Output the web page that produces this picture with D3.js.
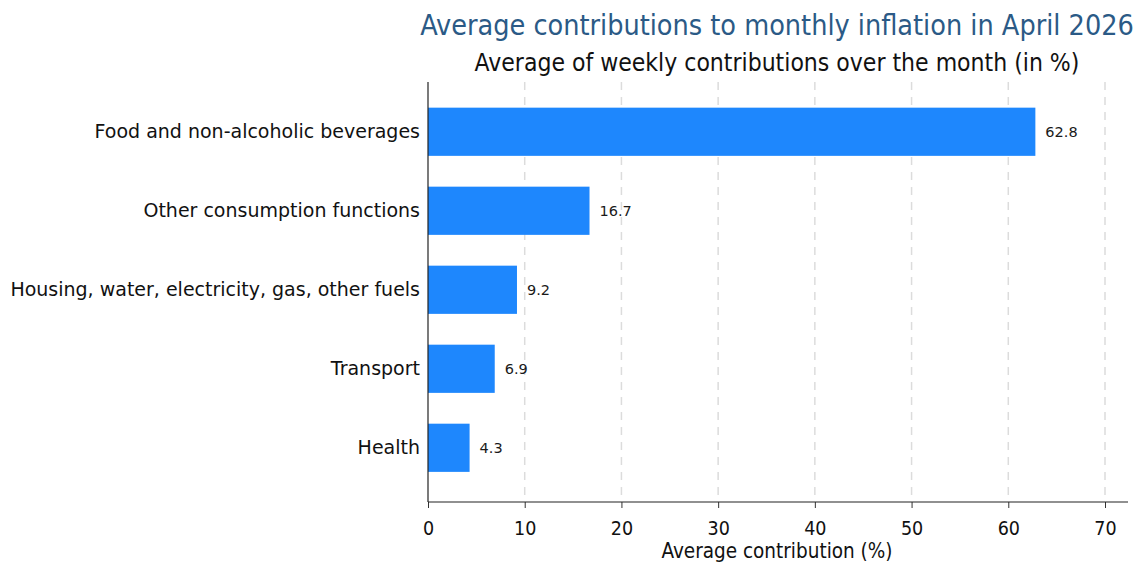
<!DOCTYPE html>
<html><head><meta charset="utf-8">
<script src="https://cdn.jsdelivr.net/npm/d3@7"></script>
<style>
body{margin:0;background:#fff;}
svg{display:block;font-family:"DejaVu Sans Condensed","DejaVu Sans",sans-serif;}
</style></head>
<body>
<svg id="c" width="1146" height="563"></svg>
<script>
const categories = ["Food and non-alcoholic beverages","Other consumption functions","Housing, water, electricity, gas, other fuels","Transport","Health"];
const values = [62.8, 16.7, 9.2, 6.9, 4.3];
const xTicks = [0,10,20,30,40,50,60,70];
const titleText = "Average contributions to monthly inflation in April 2026";
const subtitleText = "Average of weekly contributions over the month (in %)";
const xAxisTitle = "Average contribution (%)";

(function(){
const svg = d3.select("#c");
const pL = 428, pR = 1128, pT = 82, pB = 502;
const cond = '"DejaVu Sans Condensed","DejaVu Sans",sans-serif';
const wide = '"DejaVu Sans",sans-serif';
const x = d3.scaleLinear().domain([0,70]).range([pL, 1105]);
const y = d3.scaleBand().domain(categories).range([pT, pB]).paddingInner(0.39).paddingOuter(0.353).align(0.46);

svg.append("g").selectAll("line").data(xTicks.filter(d=>d>0)).join("line")
  .attr("x1", d=>x(d)).attr("x2", d=>x(d)).attr("y1", pT).attr("y2", pB)
  .attr("stroke", "#dcdcdc").attr("stroke-width", 1.5).attr("stroke-dasharray", "8,7");

svg.append("g").selectAll("rect").data(values).join("rect")
  .attr("x", x(0)).attr("y", (d,i)=>y(categories[i]))
  .attr("width", d=>x(d)-x(0)).attr("height", y.bandwidth())
  .attr("fill", "#1e87fd");

svg.append("g").selectAll("text").data(values).join("text")
  .attr("x", d=>x(d)+10).attr("y", (d,i)=>y(categories[i])+y.bandwidth()/2)
  .attr("dy","0.35em").attr("font-size", 14.5).attr("fill","#1a1a1a")
  .attr("font-family", wide)
  .text(d=>d.toFixed(1));

svg.append("g").selectAll("text").data(categories).join("text")
  .attr("x", 420).attr("y", d=>y(d)+y.bandwidth()/2)
  .attr("dy","0.35em").attr("text-anchor","end").attr("font-size", 19).attr("fill","#111")
  .attr("font-family", wide)
  .text(d=>d);

const xAxis = d3.axisBottom(x).tickValues(xTicks).tickSize(6).tickFormat(d3.format("d"));
const gx = svg.append("g").attr("transform", `translate(0,${pB})`).call(xAxis);
gx.select(".domain").remove();
gx.selectAll(".tick line").attr("stroke","#333");
gx.selectAll(".tick text").attr("font-size", 19.5).attr("fill","#111").attr("y", 33).attr("dy", 0)
  .attr("font-family", cond);
svg.append("line").attr("x1", pL).attr("x2", pR).attr("y1", pB).attr("y2", pB).attr("stroke","#222").attr("stroke-width",1.2);
svg.append("line").attr("x1", pL).attr("x2", pL).attr("y1", pT).attr("y2", pB).attr("stroke","#222").attr("stroke-width",1.2);

svg.append("text").attr("x", 777).attr("y", 558).attr("text-anchor","middle")
  .attr("font-size", 20.5).attr("fill","#111").attr("font-family", cond).text(xAxisTitle);

svg.append("text").attr("x", 777).attr("y", 35).attr("text-anchor","middle")
  .attr("font-size", 28.5).attr("fill","#2b5a86").attr("font-family", cond).text(titleText);
svg.append("text").attr("x", 777).attr("y", 71).attr("text-anchor","middle")
  .attr("font-size", 24.5).attr("fill","#111").attr("font-family", cond).text(subtitleText);
})();
</script>
</body></html>
